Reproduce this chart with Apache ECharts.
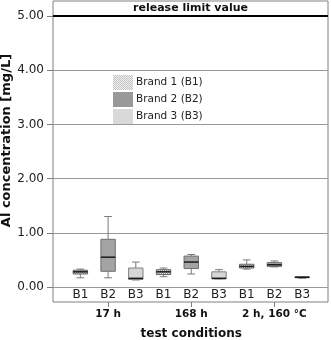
<!DOCTYPE html>
<html>
<head>
<meta charset="utf-8">
<script src="https://cdn.jsdelivr.net/npm/echarts@6/dist/echarts.min.js"></script>
<style>
  html, body { margin: 0; padding: 0; background: #fff; }
  #chart { width: 331px; height: 340px; }
</style>
</head>
<body>
<div id="chart"></div>
<script>
// box labels along the x axis and the test groups under them
const categories = ['B1', 'B2', 'B3', 'B1', 'B2', 'B3', 'B1', 'B2', 'B3']
const groups = ['17 h', '168 h', '2 h, 160 °C']
const brandNames = ['Brand 1 (B1)', 'Brand 2 (B2)', 'Brand 3 (B3)']
const yTicks = [0, 1, 2, 3, 4, 5]
const limitValue = 5

// [min, Q1, median, Q3, max] per group, one array per brand
const brand1Stats = [
  [0.17, 0.24, 0.28, 0.31, 0.33],
  [0.19, 0.23, 0.28, 0.32, 0.35],
  [0.33, 0.35, 0.38, 0.42, 0.50]
]
const brand2Stats = [
  [0.17, 0.29, 0.55, 0.88, 1.30],
  [0.24, 0.34, 0.46, 0.57, 0.60],
  [0.37, 0.38, 0.41, 0.45, 0.48]
]
const brand3Stats = [
  [0.13, 0.14, 0.16, 0.35, 0.46],
  [0.15, 0.15, 0.16, 0.28, 0.32],
  [0.16, 0.17, 0.18, 0.19, 0.19]
]

function checker(a, b) {
  const c = document.createElement('canvas')
  c.width = 2
  c.height = 2
  const ctx = c.getContext('2d')
  ctx.fillStyle = a
  ctx.fillRect(0, 0, 2, 2)
  ctx.fillStyle = b
  ctx.fillRect(0, 0, 1, 1)
  ctx.fillRect(1, 1, 1, 1)
  return { image: c, repeat: 'repeat' }
}

const boxFills = [checker('#e6e6e6', '#8c8c8c'), '#a4a4a4', '#d6d6d6']
const boxBorders = ['#6a6a6a', '#6e6e6e', '#808080']
const legendFills = [checker('#f0f0f0', '#c4c4c4'), '#999999', '#d9d9d9']

// brand k sits at index k of every group of three
function toData(stats, k) {
  return stats.map((s, g) => [g * 3 + k].concat(s))
}

function renderBox(params, api) {
  const x = api.value(0)
  const lo = api.coord([x, api.value(1)])
  const q1 = api.coord([x, api.value(2)])
  const md = api.coord([x, api.value(3)])
  const q3 = api.coord([x, api.value(4)])
  const hi = api.coord([x, api.value(5)])
  const band = api.size([1, 0])[0]
  const hw = band * 0.26
  const cw = band * 0.14
  const cx = lo[0]
  const k = params.seriesIndex
  const line = { stroke: '#7a7a7a', lineWidth: 1 }
  return {
    type: 'group',
    children: [
      { type: 'line', shape: { x1: cx, y1: hi[1], x2: cx, y2: q3[1] }, style: line },
      { type: 'line', shape: { x1: cx, y1: q1[1], x2: cx, y2: lo[1] }, style: line },
      { type: 'line', shape: { x1: cx - cw, y1: hi[1], x2: cx + cw, y2: hi[1] }, style: line },
      { type: 'line', shape: { x1: cx - cw, y1: lo[1], x2: cx + cw, y2: lo[1] }, style: line },
      {
        type: 'rect',
        shape: { x: cx - hw, y: q3[1], width: hw * 2, height: q1[1] - q3[1] },
        style: { fill: boxFills[k], stroke: boxBorders[k], lineWidth: 1 }
      },
      { type: 'line', shape: { x1: cx - hw, y1: md[1], x2: cx + hw, y2: md[1] }, style: { stroke: '#1a1a1a', lineWidth: 1.5 } }
    ]
  }
}

const chart = echarts.init(document.getElementById('chart'))
chart.setOption({
  animation: false,
  textStyle: { fontFamily: 'DejaVu Sans' },
  grid: [
    // outer frame
    { left: 53, right: 3, top: 1, bottom: 38, show: true, borderColor: '#808080', borderWidth: 1, outerBoundsMode: 'none' },
    // value grid 0..5
    { left: 53, right: 3, top: 16, bottom: 53, outerBoundsMode: 'none' },
    // boxes
    { left: 66.5, right: 15, top: 16, bottom: 53, outerBoundsMode: 'none' }
  ],
  legend: {
    orient: 'vertical',
    left: 113,
    top: 75,
    padding: 0,
    itemWidth: 20,
    itemHeight: 15,
    itemGap: 2,
    icon: 'rect',
    selectedMode: false,
    textStyle: { fontSize: 10.5, color: '#222', padding: [0, 0, 0, -2] },
    data: brandNames.map((n, i) => ({ name: n, itemStyle: { color: legendFills[i], borderWidth: 0 } }))
  },
  xAxis: [
    { gridIndex: 0, type: 'value', show: false },
    { gridIndex: 1, type: 'value', min: 0, max: 1, show: false },
    {
      gridIndex: 2,
      type: 'category',
      position: 'bottom',
      data: categories,
      axisLine: { show: false },
      axisTick: { show: false },
      axisLabel: { fontSize: 12, color: '#222', margin: 2, interval: 0 }
    },
    {
      gridIndex: 2,
      type: 'category',
      position: 'bottom',
      offset: 15,
      data: groups,
      axisLine: { show: false },
      axisTick: { show: true, alignWithLabel: true, length: 5, lineStyle: { color: '#808080' } },
      axisLabel: { fontSize: 10.5, fontWeight: 'bold', color: '#111', margin: 7, interval: 0 },
      name: 'test conditions',
      nameLocation: 'middle',
      nameGap: 26,
      nameMoveOverlap: false,
      nameTextStyle: { fontSize: 12, fontWeight: 'bold', color: '#111' }
    }
  ],
  yAxis: [
    { gridIndex: 0, type: 'value', show: false },
    {
      gridIndex: 1,
      type: 'value',
      min: yTicks[0],
      max: yTicks[yTicks.length - 1],
      interval: 1,
      axisLine: { show: false },
      axisTick: { show: true, length: 6, lineStyle: { color: '#808080' } },
      axisLabel: { fontSize: 12, color: '#222', margin: 9, formatter: v => v.toFixed(2) },
      splitLine: { lineStyle: { color: '#999999', width: 1 } },
      name: 'Al concentration [mg/L]',
      nameLocation: 'middle',
      nameGap: 40,
      nameMoveOverlap: false,
      nameTextStyle: { fontSize: 13, fontWeight: 'bold', color: '#111', padding: [0, 0, 0, 22] }
    },
    { gridIndex: 2, type: 'value', min: yTicks[0], max: yTicks[yTicks.length - 1], show: false }
  ],
  series: [
    [brand1Stats, 0], [brand2Stats, 1], [brand3Stats, 2]
  ].map(([stats, k]) => ({
    name: brandNames[k],
    type: 'custom',
    xAxisIndex: 2,
    yAxisIndex: 2,
    renderItem: renderBox,
    encode: { x: 0, y: [1, 2, 3, 4, 5] },
    data: toData(stats, k)
  })).concat([{
    type: 'line',
    xAxisIndex: 1,
    yAxisIndex: 1,
    data: [],
    markLine: {
      silent: true,
      symbol: 'none',
      lineStyle: { color: '#000', width: 2, type: 'solid' },
      label: {
        formatter: 'release limit value',
        position: 'insideMiddleTop',
        distance: 2,
        fontSize: 11,
        fontWeight: 'bold',
        color: '#111'
      },
      data: [{ yAxis: limitValue }]
    }
  }])
})
</script>
</body>
</html>
